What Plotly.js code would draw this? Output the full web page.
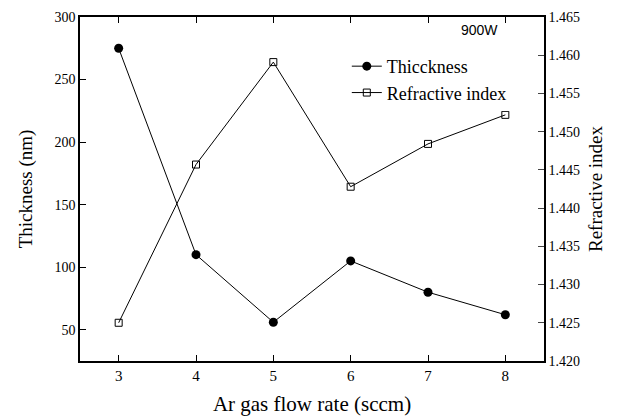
<!DOCTYPE html>
<html>
<head>
<meta charset="utf-8">
<script src="https://cdn.plot.ly/plotly-3.0.1.min.js"></script>
<style>
html,body{margin:0;padding:0;background:#fff;}
#chart{width:631px;height:416px;}
#power{position:absolute;left:461px;top:22px;font-family:'Liberation Sans',Arial,sans-serif;font-size:14px;line-height:16px;color:#000;z-index:10;}
#dbg{position:absolute;left:0;top:0;font-size:1px;color:transparent;}
</style>
</head>
<body>
<div id="chart"></div>
<div id="power">900W</div>
<div id="dbg"></div>
<script>
const flowRate = [3, 4, 5, 6, 7, 8];
const thickness = [275, 110, 56, 105, 80, 62];
const refractiveIndex = [1.4250, 1.4457, 1.4591, 1.4428, 1.4484, 1.4522];
const leftTicks = [50, 100, 150, 200, 250, 300];
const rightTicks = [1.420, 1.425, 1.430, 1.435, 1.440, 1.445, 1.450, 1.455, 1.460, 1.465];

const traces = [
  {x: flowRate, y: thickness, name: 'Thicckness', type: 'scatter', mode: 'lines+markers',
    line: {color: '#000', width: 1}, marker: {symbol: 'circle', size: 9, color: '#000'}},
  {x: flowRate, y: refractiveIndex, name: 'Refractive index', type: 'scatter', mode: 'lines+markers',
    line: {color: '#000', width: 1}, marker: {symbol: 'square-open', size: 7, color: '#000', line: {width: 1}}, yaxis: 'y2'}
];

const layout = {
  width: 631, height: 416,
  margin: {l: 80, r: 87, t: 17, b: 55, pad: 0},
  font: {family: 'serif', color: '#000', size: 14},
  legend: {x: 0.575, y: 0.91, font: {family: 'Times New Roman', size: 18}},
  xaxis: {range: [2.5, 8.5], tickvals: flowRate, ticks: 'inside', ticklen: 6, tickcolor: '#000',
    showline: true, linecolor: '#000', linewidth: 1.5, mirror: 'ticks', showgrid: false, zeroline: false,
    tickfont: {family: 'serif', size: 15},
    title: {text: 'Ar gas flow rate (sccm)', font: {family: 'Liberation Serif', size: 21}}},
  yaxis: {range: [25, 300], tickvals: leftTicks, ticks: 'inside', ticklen: 6, tickcolor: '#000',
    showline: true, linecolor: '#000', linewidth: 1.5, showgrid: false, zeroline: false,
    title: {text: 'Thickness (nm)', font: {size: 19}}},
  yaxis2: {overlaying: 'y', side: 'right', range: [1.420, 1.465], tickvals: rightTicks, tickformat: '.3f',
    ticks: 'inside', ticklen: 6,
    showline: true, linecolor: '#000', linewidth: 1.5, showgrid: false, zeroline: false,
    title: {text: 'Refractive index', font: {size: 19}}}
};

Plotly.newPlot('chart', traces, layout, {displayModeBar: false}).then(function(){
  document.getElementById('dbg').textContent = '.';
});
</script>
</body>
</html>
